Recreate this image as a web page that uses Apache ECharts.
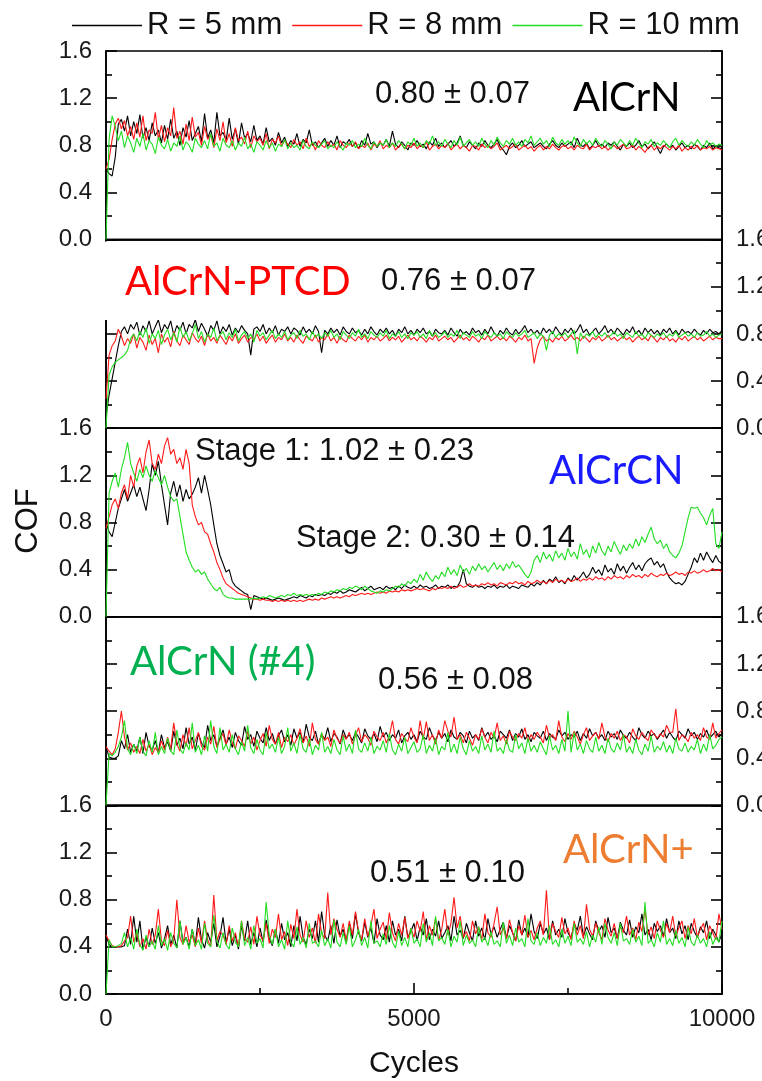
<!DOCTYPE html>
<html><head><meta charset="utf-8">
<script src="https://cdn.jsdelivr.net/npm/echarts@6/dist/echarts.min.js"></script>
<style>html,body{margin:0;padding:0;background:#fff}#chart{width:762px;height:1081px}</style>
</head><body><div id="chart"></div>
<script>
// ---- data ----
const cycleStep = 50; // cycles between consecutive samples (0 .. 10000)
const seriesNames = ['R = 5 mm', 'R = 8 mm', 'R = 10 mm'];
const seriesColors = ['#000000', '#ff1a1a', '#22dd22'];
const panelLabels = ['AlCrN', 'AlCrN-PTCD', 'AlCrCN', 'AlCrN (#4)', 'AlCrN+'];
const panelLabelColors = ['#000000', '#ff0000', '#1a1aff', '#00b050', '#ed7d31'];
const cofTexts = ['0.80 ± 0.07', '0.76 ± 0.07', 'Stage 1: 1.02 ± 0.23', 'Stage 2: 0.30 ± 0.14', '0.56 ± 0.08', '0.51 ± 0.10'];
const yTickLabels = ['0.0', '0.4', '0.8', '1.2', '1.6'];
const xTickLabels = ['0', '5000', '10000'];

const alcrn_r5 = [
0.60,0.56,0.54,0.70,0.98,1.02,0.92,1.05,0.88,1.00,
0.90,1.06,0.86,0.95,0.84,0.99,0.88,0.93,0.82,0.97,
0.85,1.02,0.86,0.92,0.80,0.95,0.87,1.01,0.84,0.90,
0.96,0.83,1.07,0.86,0.93,0.82,1.08,0.88,0.91,0.84,
1.03,0.85,0.94,0.81,0.99,0.86,0.90,0.83,0.97,0.84,
0.88,0.81,0.95,0.83,0.86,0.80,0.91,0.82,0.87,0.79,
0.84,0.81,0.90,0.79,0.85,0.82,0.93,0.80,0.83,0.78,
0.82,0.86,0.79,0.84,0.80,0.88,0.78,0.83,0.81,0.85,
0.79,0.82,0.77,0.84,0.80,0.90,0.81,0.83,0.78,0.82,
0.80,0.85,0.79,0.92,0.81,0.78,0.83,0.80,0.76,0.82,
0.80,0.84,0.79,0.81,0.77,0.83,0.80,0.86,0.79,0.82,
0.78,0.81,0.84,0.79,0.82,0.88,0.80,0.78,0.83,0.80,
0.77,0.82,0.79,0.84,0.80,0.78,0.81,0.85,0.79,0.76,
0.72,0.79,0.82,0.78,0.80,0.84,0.79,0.81,0.83,0.78,
0.80,0.82,0.79,0.77,0.81,0.84,0.80,0.78,0.82,0.79,
0.81,0.83,0.78,0.86,0.80,0.79,0.82,0.77,0.80,0.84,
0.79,0.81,0.78,0.82,0.80,0.83,0.79,0.76,0.81,0.79,
0.82,0.78,0.80,0.84,0.79,0.81,0.77,0.80,0.83,0.78,
0.73,0.79,0.81,0.78,0.80,0.76,0.79,0.82,0.78,0.80,
0.77,0.81,0.79,0.76,0.80,0.78,0.82,0.77,0.79,0.78,0.77];
const alcrn_r8 = [
0.60,0.68,0.85,0.98,1.03,0.94,1.01,0.88,0.96,0.85,
0.99,0.87,1.05,0.84,0.93,0.90,1.08,0.85,0.97,0.83,
0.95,0.88,1.12,0.86,0.92,0.81,0.98,0.84,1.04,0.87,
0.91,0.80,0.96,0.85,0.89,0.78,0.94,0.84,1.00,0.82,
0.90,0.79,0.95,0.84,0.87,0.81,0.92,0.78,0.88,0.83,
0.86,0.80,0.90,0.77,0.85,0.82,0.88,0.79,0.84,0.81,
0.78,0.85,0.80,0.83,0.77,0.86,0.79,0.82,0.76,0.84,
0.80,0.78,0.83,0.79,0.81,0.76,0.84,0.80,0.78,0.82,
0.79,0.83,0.77,0.80,0.78,0.82,0.76,0.81,0.79,0.84,
0.77,0.80,0.78,0.82,0.76,0.79,0.81,0.77,0.80,0.78,
0.82,0.77,0.80,0.78,0.83,0.76,0.79,0.81,0.77,0.80,
0.78,0.82,0.76,0.79,0.81,0.77,0.80,0.78,0.75,0.80,
0.79,0.76,0.81,0.78,0.80,0.77,0.79,0.82,0.76,0.78,
0.80,0.77,0.79,0.81,0.76,0.78,0.80,0.77,0.79,0.75,
0.78,0.80,0.76,0.79,0.77,0.81,0.78,0.76,0.79,0.80,
0.77,0.79,0.76,0.80,0.78,0.77,0.81,0.76,0.79,0.78,
0.80,0.77,0.79,0.76,0.78,0.80,0.77,0.79,0.81,0.77,
0.78,0.80,0.76,0.79,0.77,0.74,0.78,0.80,0.76,0.79,
0.77,0.80,0.78,0.76,0.79,0.77,0.80,0.75,0.78,0.76,
0.79,0.77,0.80,0.76,0.78,0.77,0.79,0.76,0.78,0.77,0.76];
const alcrn_r10 = [
0.00,0.85,1.05,0.96,0.84,0.92,0.78,0.88,0.82,0.74,
0.86,0.79,0.90,0.76,0.84,0.81,0.73,0.87,0.80,0.77,
0.85,0.75,0.82,0.79,0.88,0.76,0.83,0.80,0.74,0.86,
0.81,0.78,0.84,0.77,0.90,0.79,0.82,0.75,0.86,0.80,
0.78,0.84,0.76,0.82,0.79,0.87,0.77,0.81,0.74,0.83,
0.80,0.76,0.84,0.78,0.82,0.75,0.81,0.79,0.85,0.77,
0.82,0.78,0.80,0.76,0.84,0.79,0.77,0.83,0.80,0.78,
0.81,0.84,0.77,0.80,0.78,0.83,0.79,0.76,0.82,0.80,
0.84,0.78,0.81,0.79,0.86,0.80,0.77,0.83,0.79,0.82,
0.80,0.85,0.78,0.82,0.79,0.84,0.81,0.77,0.83,0.80,
0.86,0.79,0.82,0.78,0.84,0.81,0.88,0.80,0.83,0.79,
0.85,0.81,0.78,0.84,0.80,0.87,0.79,0.82,0.85,0.80,
0.83,0.79,0.86,0.81,0.78,0.84,0.80,0.87,0.82,0.79,
0.84,0.81,0.86,0.80,0.83,0.79,0.85,0.82,0.88,0.80,
0.83,0.86,0.81,0.84,0.79,0.87,0.82,0.80,0.85,0.81,
0.84,0.80,0.87,0.82,0.79,0.85,0.81,0.84,0.80,0.86,
0.82,0.79,0.84,0.81,0.77,0.83,0.80,0.85,0.82,0.79,
0.84,0.80,0.86,0.82,0.78,0.83,0.81,0.85,0.79,0.82,
0.80,0.84,0.81,0.78,0.83,0.86,0.80,0.84,0.81,0.79,
0.83,0.80,0.85,0.81,0.78,0.84,0.80,0.82,0.79,0.81,0.80];

const ptcd_r5 = [
0.10,0.28,0.42,0.56,0.70,0.82,0.86,0.80,0.88,0.84,
0.90,0.79,0.87,0.82,0.91,0.80,0.86,0.92,0.81,0.88,
0.84,0.91,0.79,0.87,0.83,0.90,0.80,0.88,0.85,0.92,
0.82,0.89,0.84,0.78,0.87,0.83,0.91,0.80,0.86,0.82,
0.88,0.79,0.85,0.81,0.87,0.83,0.80,0.62,0.84,0.86,
0.82,0.88,0.80,0.85,0.81,0.87,0.79,0.84,0.82,0.86,
0.80,0.85,0.83,0.79,0.86,0.81,0.84,0.80,0.87,0.82,
0.64,0.83,0.80,0.85,0.81,0.84,0.79,0.86,0.82,0.80,
0.85,0.81,0.83,0.79,0.84,0.80,0.86,0.82,0.79,0.84,
0.81,0.85,0.80,0.83,0.78,0.84,0.81,0.86,0.80,0.83,
0.79,0.84,0.81,0.85,0.80,0.82,0.78,0.84,0.81,0.80,
0.83,0.79,0.85,0.81,0.78,0.84,0.80,0.82,0.79,0.85,
0.81,0.83,0.79,0.84,0.80,0.86,0.81,0.78,0.83,0.80,
0.85,0.81,0.79,0.84,0.80,0.83,0.87,0.81,0.84,0.80,
0.83,0.79,0.85,0.81,0.84,0.80,0.86,0.82,0.79,0.84,
0.81,0.85,0.80,0.83,0.88,0.81,0.84,0.79,0.82,0.85,
0.80,0.83,0.87,0.81,0.84,0.80,0.85,0.82,0.79,0.84,
0.81,0.86,0.80,0.83,0.79,0.85,0.81,0.84,0.80,0.83,
0.79,0.84,0.81,0.85,0.80,0.83,0.79,0.84,0.81,0.82,
0.80,0.84,0.81,0.79,0.83,0.80,0.84,0.81,0.82,0.80,0.83];
const ptcd_r8 = [
0.25,0.62,0.70,0.74,0.84,0.78,0.70,0.76,0.72,0.80,
0.68,0.77,0.73,0.66,0.79,0.71,0.76,0.64,0.80,0.73,
0.77,0.69,0.82,0.74,0.70,0.79,0.75,0.71,0.81,0.76,
0.73,0.78,0.70,0.80,0.74,0.77,0.72,0.79,0.75,0.71,
0.78,0.74,0.80,0.72,0.76,0.79,0.73,0.77,0.75,0.80,
0.74,0.78,0.72,0.76,0.79,0.73,0.77,0.75,0.80,0.74,
0.77,0.73,0.79,0.75,0.72,0.78,0.76,0.74,0.79,0.73,
0.77,0.75,0.80,0.74,0.77,0.72,0.78,0.75,0.73,0.79,
0.76,0.74,0.78,0.75,0.79,0.73,0.77,0.75,0.78,0.74,
0.76,0.79,0.74,0.77,0.75,0.78,0.73,0.76,0.79,0.75,
0.77,0.74,0.78,0.76,0.73,0.77,0.75,0.79,0.74,0.76,
0.78,0.75,0.77,0.73,0.76,0.79,0.75,0.77,0.74,0.78,
0.76,0.73,0.77,0.75,0.79,0.74,0.76,0.78,0.75,0.77,
0.74,0.78,0.76,0.73,0.77,0.75,0.79,0.74,0.76,0.55,
0.68,0.75,0.78,0.74,0.76,0.73,0.77,0.75,0.78,0.74,
0.76,0.79,0.75,0.77,0.74,0.78,0.76,0.73,0.77,0.75,
0.78,0.74,0.76,0.79,0.75,0.77,0.74,0.76,0.78,0.75,
0.77,0.73,0.76,0.78,0.75,0.77,0.74,0.79,0.76,0.73,
0.77,0.75,0.78,0.74,0.76,0.73,0.77,0.75,0.78,0.74,
0.76,0.78,0.75,0.77,0.74,0.76,0.78,0.75,0.77,0.76,0.76];
const ptcd_r10 = [
0.00,0.45,0.52,0.56,0.58,0.60,0.62,0.66,0.76,0.80,
0.74,0.82,0.77,0.85,0.72,0.80,0.76,0.83,0.71,0.79,
0.84,0.75,0.81,0.73,0.86,0.77,0.82,0.74,0.80,0.88,
0.76,0.82,0.73,0.80,0.77,0.85,0.74,0.79,0.82,0.75,
0.81,0.77,0.84,0.74,0.79,0.82,0.76,0.80,0.73,0.83,
0.78,0.81,0.75,0.79,0.83,0.76,0.80,0.77,0.82,0.75,
0.79,0.81,0.76,0.83,0.78,0.80,0.75,0.82,0.77,0.80,
0.76,0.81,0.78,0.83,0.77,0.80,0.75,0.82,0.79,0.76,
0.81,0.78,0.84,0.77,0.80,0.76,0.82,0.79,0.77,0.81,
0.78,0.83,0.76,0.80,0.78,0.82,0.77,0.80,0.76,0.81,
0.79,0.82,0.77,0.80,0.76,0.83,0.78,0.81,0.77,0.79,
0.82,0.77,0.80,0.78,0.83,0.76,0.81,0.79,0.77,0.82,
0.78,0.80,0.76,0.82,0.79,0.77,0.81,0.78,0.80,0.76,
0.82,0.79,0.77,0.81,0.78,0.80,0.83,0.77,0.79,0.81,
0.76,0.80,0.78,0.66,0.79,0.82,0.77,0.80,0.78,0.81,
0.77,0.80,0.83,0.63,0.81,0.76,0.80,0.78,0.82,0.77,
0.80,0.78,0.81,0.77,0.79,0.82,0.78,0.80,0.76,0.81,
0.79,0.77,0.82,0.78,0.80,0.76,0.81,0.79,0.77,0.80,
0.78,0.81,0.77,0.80,0.78,0.82,0.77,0.79,0.81,0.78,
0.80,0.77,0.81,0.78,0.79,0.82,0.78,0.80,0.77,0.79,0.80];

const alcrcn_r5 = [
0.80,0.72,0.68,0.80,0.92,1.00,1.08,0.98,1.05,1.12,
1.02,1.10,1.00,0.90,1.08,1.30,1.20,1.32,1.12,0.95,
0.78,1.05,1.15,1.02,1.12,0.98,1.08,1.00,1.04,1.10,
1.18,1.05,1.20,1.08,0.95,0.78,0.62,0.52,0.45,0.38,
0.40,0.30,0.26,0.24,0.22,0.20,0.19,0.06,0.18,0.17,
0.16,0.15,0.16,0.15,0.14,0.15,0.16,0.15,0.14,0.15,
0.16,0.17,0.16,0.18,0.17,0.16,0.18,0.17,0.19,0.18,
0.19,0.18,0.20,0.19,0.21,0.20,0.22,0.20,0.21,0.23,
0.22,0.21,0.23,0.25,0.22,0.24,0.26,0.23,0.24,0.25,
0.23,0.26,0.24,0.25,0.23,0.26,0.24,0.27,0.25,0.24,
0.26,0.24,0.27,0.25,0.26,0.24,0.25,0.27,0.24,0.26,
0.25,0.27,0.24,0.26,0.25,0.30,0.40,0.28,0.26,0.25,
0.27,0.25,0.26,0.24,0.26,0.25,0.27,0.24,0.26,0.25,
0.27,0.24,0.26,0.25,0.24,0.27,0.26,0.25,0.28,0.26,
0.29,0.27,0.31,0.28,0.32,0.30,0.34,0.29,0.31,0.28,
0.33,0.30,0.35,0.31,0.34,0.38,0.33,0.36,0.42,0.37,
0.40,0.35,0.44,0.38,0.41,0.36,0.45,0.39,0.43,0.37,
0.42,0.46,0.40,0.44,0.39,0.45,0.48,0.50,0.44,0.47,
0.42,0.45,0.38,0.33,0.30,0.28,0.29,0.27,0.30,0.36,
0.42,0.50,0.46,0.54,0.48,0.55,0.50,0.46,0.52,0.47,0.45];
const alcrcn_r8 = [
0.75,0.85,0.95,1.00,0.92,1.05,1.12,1.00,1.20,1.10,
1.28,1.35,1.22,1.40,1.50,1.30,1.25,1.38,1.30,1.45,
1.52,1.38,1.42,1.30,1.35,1.25,1.42,1.30,0.95,0.85,
0.78,0.80,0.72,0.70,0.62,0.55,0.46,0.40,0.33,0.28,
0.26,0.24,0.22,0.20,0.19,0.18,0.17,0.16,0.15,0.15,
0.14,0.15,0.14,0.14,0.13,0.14,0.13,0.14,0.13,0.14,
0.13,0.14,0.13,0.14,0.13,0.14,0.15,0.14,0.15,0.14,
0.16,0.15,0.16,0.17,0.16,0.17,0.16,0.17,0.18,0.17,
0.19,0.18,0.19,0.20,0.19,0.20,0.19,0.20,0.21,0.20,
0.21,0.20,0.22,0.21,0.22,0.21,0.23,0.22,0.23,0.22,
0.23,0.24,0.23,0.24,0.23,0.22,0.24,0.23,0.25,0.24,
0.25,0.24,0.26,0.24,0.25,0.27,0.25,0.26,0.28,0.26,
0.27,0.26,0.28,0.27,0.29,0.27,0.28,0.26,0.29,0.28,
0.27,0.29,0.28,0.30,0.28,0.29,0.27,0.30,0.28,0.29,
0.31,0.29,0.30,0.28,0.31,0.29,0.32,0.30,0.31,0.29,
0.32,0.30,0.31,0.33,0.30,0.32,0.31,0.33,0.31,0.34,
0.32,0.33,0.31,0.34,0.32,0.35,0.33,0.34,0.32,0.35,
0.33,0.36,0.34,0.35,0.33,0.36,0.34,0.37,0.35,0.34,
0.36,0.35,0.37,0.35,0.36,0.38,0.36,0.37,0.35,0.38,
0.37,0.39,0.37,0.38,0.40,0.38,0.39,0.41,0.39,0.40,0.38];
const alcrcn_r10 = [
0.00,1.05,1.15,1.22,1.10,1.25,1.35,1.48,1.30,1.22,
1.15,1.25,1.18,1.28,1.20,1.15,1.24,1.18,1.12,1.20,
1.10,1.02,0.98,1.00,0.85,0.70,0.55,0.48,0.42,0.38,
0.40,0.36,0.38,0.32,0.28,0.24,0.22,0.25,0.19,0.17,
0.16,0.16,0.15,0.15,0.15,0.15,0.15,0.15,0.16,0.15,
0.16,0.17,0.16,0.18,0.17,0.16,0.17,0.18,0.17,0.19,
0.18,0.20,0.18,0.19,0.18,0.19,0.18,0.19,0.18,0.20,
0.19,0.21,0.20,0.22,0.21,0.23,0.22,0.24,0.23,0.25,
0.24,0.26,0.25,0.23,0.26,0.24,0.22,0.21,0.20,0.22,
0.21,0.23,0.22,0.24,0.26,0.25,0.28,0.26,0.30,0.28,
0.32,0.29,0.36,0.31,0.38,0.33,0.30,0.35,0.32,0.38,
0.34,0.42,0.36,0.40,0.35,0.44,0.38,0.41,0.36,0.43,
0.39,0.45,0.40,0.43,0.38,0.42,0.46,0.40,0.44,0.39,
0.45,0.41,0.47,0.42,0.44,0.40,0.36,0.33,0.38,0.48,
0.52,0.46,0.55,0.49,0.53,0.47,0.56,0.50,0.54,0.48,
0.58,0.51,0.55,0.49,0.62,0.53,0.57,0.50,0.60,0.54,
0.63,0.56,0.52,0.60,0.55,0.64,0.58,0.53,0.61,0.56,
0.62,0.58,0.66,0.60,0.68,0.63,0.70,0.76,0.66,0.62,
0.65,0.58,0.62,0.55,0.52,0.50,0.54,0.60,0.72,0.84,
0.93,0.92,0.93,0.88,0.84,0.78,0.86,0.92,0.62,0.58,0.72];

const n4_r5 = [
0.50,0.41,0.40,0.40,0.42,0.55,0.48,0.60,0.45,0.52,
0.46,0.58,0.44,0.62,0.50,0.47,0.55,0.45,0.60,0.49,
0.54,0.46,0.63,0.51,0.57,0.48,0.66,0.52,0.58,0.47,
0.61,0.53,0.49,0.68,0.55,0.60,0.50,0.57,0.64,0.52,
0.58,0.49,0.62,0.55,0.51,0.67,0.56,0.60,0.50,0.63,
0.57,0.53,0.66,0.55,0.61,0.52,0.59,0.64,0.54,0.60,
0.51,0.65,0.57,0.62,0.53,0.69,0.58,0.55,0.63,0.52,
0.60,0.56,0.66,0.54,0.61,0.58,0.52,0.64,0.57,0.60,
0.55,0.62,0.58,0.53,0.65,0.59,0.56,0.61,0.54,0.67,
0.58,0.62,0.55,0.60,0.57,0.64,0.53,0.59,0.62,0.56,
0.60,0.54,0.63,0.58,0.56,0.66,0.59,0.55,0.62,0.57,
0.61,0.54,0.64,0.58,0.56,0.62,0.59,0.53,0.63,0.57,
0.60,0.55,0.66,0.58,0.62,0.56,0.59,0.54,0.63,0.60,
0.57,0.64,0.55,0.61,0.58,0.65,0.56,0.60,0.54,0.62,
0.59,0.57,0.63,0.55,0.61,0.58,0.56,0.64,0.59,0.62,
0.56,0.60,0.58,0.63,0.55,0.61,0.57,0.65,0.59,0.62,
0.57,0.60,0.55,0.63,0.58,0.61,0.56,0.64,0.59,0.57,
0.62,0.58,0.55,0.66,0.60,0.57,0.63,0.59,0.61,0.56,
0.60,0.64,0.57,0.62,0.58,0.55,0.63,0.60,0.57,0.65,
0.59,0.62,0.56,0.61,0.58,0.64,0.57,0.60,0.63,0.58,0.61];
const n4_r8 = [
0.50,0.46,0.43,0.48,0.62,0.80,0.58,0.47,0.53,0.45,
0.50,0.44,0.56,0.46,0.52,0.43,0.49,0.45,0.55,0.47,
0.58,0.48,0.70,0.52,0.46,0.60,0.50,0.66,0.48,0.55,
0.62,0.50,0.47,0.58,0.52,0.67,0.49,0.56,0.61,0.51,
0.64,0.53,0.48,0.59,0.55,0.50,0.63,0.52,0.58,0.47,
0.55,0.61,0.50,0.68,0.56,0.52,0.62,0.49,0.58,0.54,
0.60,0.51,0.57,0.65,0.53,0.59,0.50,0.70,0.56,0.52,
0.61,0.55,0.58,0.50,0.64,0.57,0.53,0.60,0.56,0.62,
0.52,0.59,0.66,0.54,0.60,0.57,0.51,0.63,0.58,0.55,
0.62,0.53,0.59,0.72,0.56,0.52,0.61,0.57,0.54,0.66,
0.58,0.53,0.72,0.56,0.71,0.55,0.60,0.52,0.64,0.57,
0.72,0.63,0.58,0.75,0.56,0.60,0.53,0.62,0.57,0.51,
0.60,0.56,0.65,0.58,0.53,0.62,0.57,0.70,0.55,0.59,
0.52,0.63,0.58,0.55,0.61,0.57,0.66,0.54,0.60,0.56,
0.62,0.58,0.53,0.68,0.57,0.60,0.55,0.72,0.58,0.54,
0.61,0.56,0.63,0.58,0.52,0.60,0.66,0.55,0.59,0.62,
0.56,0.70,0.58,0.54,0.61,0.57,0.63,0.55,0.60,0.58,
0.53,0.65,0.59,0.56,0.62,0.58,0.55,0.64,0.60,0.57,
0.61,0.58,0.68,0.62,0.62,0.82,0.55,0.60,0.58,0.54,
0.62,0.57,0.60,0.55,0.66,0.58,0.56,0.70,0.57,0.61,0.64];
const n4_r10 = [
0.00,0.44,0.42,0.45,0.50,0.58,0.72,0.48,0.43,0.52,
0.44,0.58,0.46,0.42,0.55,0.45,0.62,0.43,0.50,0.44,
0.57,0.46,0.43,0.64,0.48,0.44,0.53,0.47,0.70,0.45,
0.51,0.43,0.59,0.46,0.72,0.50,0.44,0.66,0.47,0.52,
0.45,0.60,0.48,0.43,0.54,0.46,0.68,0.49,0.44,0.56,
0.47,0.43,0.62,0.48,0.52,0.45,0.58,0.44,0.50,0.66,
0.46,0.53,0.44,0.60,0.48,0.45,0.57,0.43,0.51,0.47,
0.62,0.45,0.50,0.44,0.56,0.47,0.43,0.59,0.46,0.52,
0.44,0.64,0.48,0.45,0.53,0.46,0.58,0.44,0.50,0.47,
0.55,0.45,0.61,0.47,0.43,0.52,0.46,0.58,0.44,0.49,
0.54,0.45,0.48,0.60,0.44,0.51,0.46,0.57,0.43,0.50,
0.47,0.62,0.45,0.52,0.44,0.58,0.48,0.43,0.55,0.46,
0.50,0.44,0.59,0.47,0.52,0.45,0.63,0.46,0.49,0.44,
0.56,0.47,0.45,0.60,0.48,0.53,0.44,0.57,0.46,0.51,
0.45,0.54,0.48,0.43,0.59,0.47,0.51,0.44,0.56,0.46,
0.80,0.45,0.62,0.47,0.52,0.44,0.55,0.48,0.45,0.58,
0.46,0.51,0.44,0.57,0.48,0.45,0.53,0.47,0.60,0.45,
0.50,0.44,0.56,0.47,0.43,0.52,0.46,0.59,0.45,0.50,
0.47,0.54,0.45,0.51,0.44,0.57,0.48,0.46,0.53,0.45,
0.50,0.47,0.56,0.44,0.52,0.46,0.60,0.48,0.51,0.56,0.58];

const plus_r5 = [
0.50,0.42,0.40,0.40,0.40,0.40,0.41,0.55,0.42,0.66,
0.44,0.62,0.38,0.48,0.40,0.56,0.43,0.52,0.39,0.47,
0.58,0.42,0.50,0.39,0.62,0.44,0.48,0.40,0.55,0.42,
0.65,0.46,0.39,0.52,0.44,0.60,0.40,0.49,0.65,0.43,
0.55,0.41,0.50,0.38,0.58,0.45,0.62,0.42,0.52,0.40,
0.56,0.44,0.63,0.47,0.41,0.55,0.43,0.60,0.46,0.52,
0.40,0.58,0.45,0.66,0.48,0.42,0.55,0.47,0.62,0.44,
0.70,0.50,0.45,0.58,0.43,0.63,0.49,0.55,0.44,0.60,
0.47,0.68,0.52,0.45,0.61,0.48,0.56,0.43,0.64,0.50,
0.46,0.58,0.44,0.62,0.50,0.55,0.45,0.66,0.48,0.53,
0.60,0.45,0.57,0.50,0.64,0.46,0.55,0.49,0.62,0.47,
0.52,0.58,0.45,0.66,0.50,0.54,0.47,0.60,0.52,0.45,
0.62,0.49,0.56,0.46,0.64,0.51,0.57,0.48,0.55,0.61,
0.47,0.58,0.52,0.45,0.63,0.50,0.56,0.48,0.68,0.53,
0.47,0.60,0.51,0.56,0.46,0.62,0.50,0.55,0.48,0.64,
0.52,0.47,0.60,0.54,0.66,0.49,0.57,0.51,0.46,0.62,
0.53,0.58,0.48,0.65,0.52,0.56,0.47,0.61,0.54,0.50,
0.63,0.48,0.57,0.52,0.68,0.50,0.55,0.46,0.60,0.53,
0.58,0.49,0.64,0.52,0.56,0.47,0.62,0.51,0.58,0.46,
0.60,0.53,0.48,0.57,0.52,0.62,0.47,0.55,0.50,0.44,0.52];
const plus_r8 = [
0.50,0.45,0.41,0.40,0.40,0.41,0.45,0.48,0.66,0.44,
0.52,0.40,0.47,0.38,0.55,0.42,0.50,0.72,0.45,0.41,
0.54,0.40,0.46,0.80,0.48,0.42,0.58,0.44,0.50,0.40,
0.56,0.43,0.62,0.46,0.40,0.84,0.45,0.53,0.50,0.42,
0.58,0.45,0.52,0.40,0.62,0.47,0.44,0.57,0.42,0.66,
0.50,0.45,0.60,0.43,0.55,0.48,0.68,0.46,0.53,0.41,
0.59,0.47,0.72,0.50,0.44,0.62,0.48,0.56,0.43,0.68,
0.52,0.47,0.86,0.50,0.64,0.55,0.48,0.60,0.45,0.62,
0.50,0.70,0.53,0.46,0.64,0.49,0.58,0.72,0.47,0.55,
0.61,0.46,0.69,0.52,0.45,0.60,0.50,0.65,0.47,0.56,
0.48,0.62,0.53,0.70,0.46,0.58,0.50,0.64,0.45,0.55,
0.72,0.50,0.60,0.82,0.56,0.66,0.48,0.53,0.45,0.62,
0.51,0.57,0.46,0.68,0.52,0.48,0.60,0.74,0.50,0.56,
0.47,0.63,0.52,0.45,0.58,0.50,0.67,0.48,0.54,0.46,
0.56,0.62,0.50,0.88,0.46,0.60,0.53,0.48,0.65,0.51,
0.56,0.46,0.62,0.50,0.58,0.47,0.76,0.55,0.49,0.60,
0.52,0.46,0.64,0.54,0.49,0.60,0.47,0.57,0.52,0.66,
0.50,0.56,0.46,0.61,0.53,0.72,0.50,0.57,0.47,0.62,
0.54,0.48,0.60,0.52,0.66,0.49,0.56,0.62,0.47,0.58,
0.51,0.64,0.48,0.55,0.60,0.46,0.58,0.52,0.46,0.68,0.55];
const plus_r10 = [
0.00,0.46,0.40,0.40,0.41,0.43,0.52,0.40,0.48,0.38,
0.55,0.42,0.37,0.50,0.40,0.45,0.38,0.58,0.41,0.47,
0.37,0.52,0.43,0.39,0.62,0.42,0.48,0.38,0.55,0.41,
0.46,0.38,0.60,0.43,0.40,0.67,0.45,0.39,0.52,0.42,
0.38,0.56,0.44,0.40,0.62,0.41,0.48,0.38,0.58,0.43,
0.47,0.39,0.78,0.50,0.42,0.55,0.40,0.46,0.38,0.62,
0.44,0.40,0.57,0.42,0.48,0.39,0.60,0.43,0.45,0.40,
0.54,0.41,0.47,0.39,0.63,0.44,0.40,0.52,0.42,0.58,
0.40,0.46,0.55,0.41,0.48,0.39,0.62,0.43,0.45,0.40,
0.51,0.42,0.58,0.44,0.39,0.53,0.41,0.48,0.40,0.56,
0.43,0.47,0.40,0.60,0.44,0.52,0.41,0.66,0.45,0.48,
0.42,0.55,0.40,0.49,0.44,0.62,0.41,0.50,0.43,0.46,
0.40,0.57,0.44,0.48,0.41,0.53,0.42,0.45,0.40,0.61,
0.43,0.50,0.41,0.56,0.44,0.47,0.40,0.64,0.45,0.42,
0.52,0.41,0.48,0.43,0.58,0.42,0.46,0.40,0.55,0.43,
0.49,0.41,0.60,0.44,0.47,0.42,0.53,0.40,0.50,0.44,
0.57,0.42,0.60,0.48,0.43,0.52,0.41,0.60,0.45,0.47,
0.42,0.55,0.44,0.49,0.41,0.78,0.43,0.46,0.40,0.52,
0.44,0.62,0.42,0.47,0.41,0.54,0.43,0.48,0.40,0.57,
0.44,0.41,0.50,0.43,0.47,0.40,0.53,0.42,0.48,0.44,0.62];

// ---- layout / build ----
const FONT = "'Liberation Sans', Arial, sans-serif";
const LABEL_FONT = "Lato, 'Open Sans', sans-serif";
const panels = [
  { data: [alcrn_r5, alcrn_r8, alcrn_r10], labelSide: 'left' },
  { data: [ptcd_r5, ptcd_r8, ptcd_r10], labelSide: 'right' },
  { data: [alcrcn_r5, alcrcn_r8, alcrcn_r10], labelSide: 'left' },
  { data: [n4_r5, n4_r8, n4_r10], labelSide: 'right' },
  { data: [plus_r5, plus_r8, plus_r10], labelSide: 'left' }
];
const TOP0 = 51, PH = 188.6, LEFT = 106, PW = 616;
const axisLineStyle = { color: '#000', width: 1.6 };

const grids = [], xAxes = [], yAxes = [], series = [];
panels.forEach((p, k) => {
  const last = k === panels.length - 1;
  grids.push({ left: LEFT, width: PW, top: TOP0 + k * PH, height: PH, outerBoundsMode: 'none', containLabel: false,
    show: true, borderColor: '#000', borderWidth: 1.6, backgroundColor: 'transparent' });
  xAxes.push({ type: 'value', gridIndex: k, min: 0, max: 10000, interval: 5000,
    axisLine: { show: true, onZero: false, lineStyle: axisLineStyle },
    axisTick: { show: last, inside: true, length: 11, lineStyle: axisLineStyle },
    minorTick: { show: last, splitNumber: 2, length: 6, lineStyle: axisLineStyle },
    splitLine: { show: false },
    axisLabel: { show: last, fontSize: 24, color: '#1a1a1a', margin: 13, fontFamily: FONT,
      formatter: v => xTickLabels[Math.round(v / 5000)] }
  });
  ['left', 'right'].forEach(side => {
    yAxes.push({ type: 'value', gridIndex: k, position: side, min: 0, max: 1.6, interval: 0.4,
      axisLine: { show: true, onZero: false, lineStyle: axisLineStyle },
      axisTick: { show: true, inside: true, length: 11, lineStyle: axisLineStyle },
      minorTick: { show: true, splitNumber: 2, length: 6, lineStyle: axisLineStyle },
      splitLine: { show: false },
      axisLabel: { show: side === p.labelSide, fontSize: 24, color: '#1a1a1a',
        margin: 14, fontFamily: FONT, hideOverlap: false,
        formatter: v => yTickLabels[Math.round(v / 0.4)] }
    });
  });
  p.data.forEach((vals, s) => {
    series.push({ name: seriesNames[s], type: 'line', xAxisIndex: k, yAxisIndex: 2 * k,
      data: vals.map((v, i) => [i * cycleStep, v]),
      showSymbol: false, symbol: 'none', color: seriesColors[s],
      lineStyle: { width: 1.1, color: seriesColors[s] }, z: 2 + s, animation: false });
  });
});

function txt(x, y, text, size, color, family) {
  return { type: 'text', x: x, y: y, z: 100,
    style: { text: text, fontSize: size, fontFamily: family, fill: color, align: 'left', verticalAlign: 'middle' } };
}
const graphic = [
  { type: 'rect', shape: { x: 100, y: 241.5, width: 262, height: 78.5 }, style: { fill: '#fff' }, z: 90 },
  txt(375, 94, cofTexts[0], 31, '#111', FONT),
  txt(573, 98, panelLabels[0], 40, panelLabelColors[0], LABEL_FONT),
  txt(125, 282, panelLabels[1], 40, panelLabelColors[1], LABEL_FONT),
  txt(381, 281, cofTexts[1], 31, '#111', FONT),
  txt(195, 451, cofTexts[2], 31, '#111', FONT),
  txt(549, 471, panelLabels[2], 40, panelLabelColors[2], LABEL_FONT),
  txt(296, 538, cofTexts[3], 31, '#111', FONT),
  txt(130, 662, panelLabels[3], 40, panelLabelColors[3], LABEL_FONT),
  txt(378, 680, cofTexts[4], 31, '#111', FONT),
  txt(563, 850, panelLabels[4], 40, panelLabelColors[4], LABEL_FONT),
  txt(370, 873, cofTexts[5], 31, '#111', FONT),
  { type: 'text', x: 28, y: 521, rotation: Math.PI / 2, z: 100,
    style: { text: 'COF', fontSize: 31, fontFamily: FONT, fill: '#111', align: 'center', verticalAlign: 'middle' } },
  { type: 'text', x: 414, y: 1064, z: 100,
    style: { text: 'Cycles', fontSize: 30, fontFamily: FONT, fill: '#111', align: 'center', verticalAlign: 'middle' } }
];

const chart = echarts.init(document.getElementById('chart'), null, { renderer: 'canvas' });
chart.setOption({
  animation: false,
  backgroundColor: '#fff',
  legend: { data: seriesNames, left: 67, top: 5, icon: 'rect', itemWidth: 70, itemHeight: 1.5, itemGap: 10,
    textStyle: { fontSize: 31, fontFamily: FONT, color: '#111', padding: [0, 0, 0, 0] }, selectedMode: false },
  grid: grids, xAxis: xAxes, yAxis: yAxes, series: series, graphic: graphic
});
</script></body></html>
